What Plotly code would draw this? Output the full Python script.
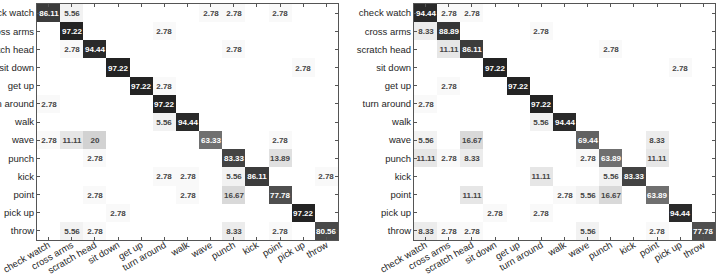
import plotly.graph_objects as go

classes = ["check watch", "cross arms", "scratch head", "sit down", "get up",
           "turn around", "walk", "wave", "punch", "kick", "point", "pick up", "throw"]

# rows = true class, columns = predicted class (percent)
left_matrix = [
    [86.11, 5.56, 0, 0, 0, 0, 0, 2.78, 2.78, 0, 2.78, 0, 0],
    [0, 97.22, 0, 0, 0, 2.78, 0, 0, 0, 0, 0, 0, 0],
    [0, 2.78, 94.44, 0, 0, 0, 0, 0, 2.78, 0, 0, 0, 0],
    [0, 0, 0, 97.22, 0, 0, 0, 0, 0, 0, 0, 2.78, 0],
    [0, 0, 0, 0, 97.22, 2.78, 0, 0, 0, 0, 0, 0, 0],
    [2.78, 0, 0, 0, 0, 97.22, 0, 0, 0, 0, 0, 0, 0],
    [0, 0, 0, 0, 0, 5.56, 94.44, 0, 0, 0, 0, 0, 0],
    [2.78, 11.11, 20, 0, 0, 0, 0, 63.33, 0, 0, 2.78, 0, 0],
    [0, 0, 2.78, 0, 0, 0, 0, 0, 83.33, 0, 13.89, 0, 0],
    [0, 0, 0, 0, 0, 2.78, 2.78, 0, 5.56, 86.11, 0, 0, 2.78],
    [0, 0, 2.78, 0, 0, 0, 2.78, 0, 16.67, 0, 77.78, 0, 0],
    [0, 0, 0, 2.78, 0, 0, 0, 0, 0, 0, 0, 97.22, 0],
    [0, 5.56, 2.78, 0, 0, 0, 0, 0, 8.33, 0, 2.78, 0, 80.56],
]

right_matrix = [
    [94.44, 2.78, 2.78, 0, 0, 0, 0, 0, 0, 0, 0, 0, 0],
    [8.33, 88.89, 0, 0, 0, 2.78, 0, 0, 0, 0, 0, 0, 0],
    [0, 11.11, 86.11, 0, 0, 0, 0, 0, 2.78, 0, 0, 0, 0],
    [0, 0, 0, 97.22, 0, 0, 0, 0, 0, 0, 0, 2.78, 0],
    [0, 2.78, 0, 0, 97.22, 0, 0, 0, 0, 0, 0, 0, 0],
    [2.78, 0, 0, 0, 0, 97.22, 0, 0, 0, 0, 0, 0, 0],
    [0, 0, 0, 0, 0, 5.56, 94.44, 0, 0, 0, 0, 0, 0],
    [5.56, 0, 16.67, 0, 0, 0, 0, 69.44, 0, 0, 8.33, 0, 0],
    [11.11, 2.78, 8.33, 0, 0, 0, 0, 2.78, 63.89, 0, 11.11, 0, 0],
    [0, 0, 0, 0, 0, 11.11, 0, 0, 5.56, 83.33, 0, 0, 0],
    [0, 0, 11.11, 0, 0, 0, 2.78, 5.56, 16.67, 0, 63.89, 0, 0],
    [0, 0, 0, 2.78, 0, 2.78, 0, 0, 0, 0, 0, 94.44, 0],
    [8.33, 2.78, 2.78, 0, 0, 0, 0, 5.56, 0, 0, 2.78, 0, 77.78],
]


def labels(m):
    return [[("" if v == 0 else f"{v:g}") for v in row] for row in m]


W, H = 719, 276
scale = [[0, "#ffffff"], [1, "#1d1d1d"]]

fig = go.Figure()
for i, m in enumerate([left_matrix, right_matrix]):
    suffix = "" if i == 0 else "2"
    fig.add_trace(go.Heatmap(
        z=m, x=classes, y=classes, text=labels(m), texttemplate="%{text}",
        textfont=dict(size=8, family="Liberation Sans, Arial", weight="bold"),
        colorscale=scale, zmin=0, zmax=100, showscale=False,
        xaxis="x" + suffix, yaxis="y" + suffix, hoverinfo="skip",
    ))

ydom = [1 - 240 / H, 1 - 4 / H]
axis_common = dict(
    showline=True, linecolor="#555555", linewidth=1, mirror="ticks",
    ticks="inside", ticklen=3, tickcolor="#555555", showgrid=False,
    zeroline=False, automargin=False,
)
xfont = dict(size=9.5, family="Liberation Sans, Arial", color="#262626")
yfont = dict(size=9.5, family="Liberation Sans, Arial", color="#262626")
fig.update_layout(
    width=W, height=H, margin=dict(l=0, r=0, t=0, b=0),
    paper_bgcolor="white", plot_bgcolor="white",
    xaxis=dict(domain=[37 / W, 338 / W], anchor="y", tickangle=-30,
               ticklabelstandoff=-5, tickfont=xfont, **axis_common),
    yaxis=dict(domain=ydom, anchor="x", autorange="reversed", tickfont=yfont,
               **axis_common),
    xaxis2=dict(domain=[414 / W, 715 / W], anchor="y2", tickangle=-30,
                ticklabelstandoff=-5, tickfont=xfont, **axis_common),
    yaxis2=dict(domain=ydom, anchor="x2", autorange="reversed", tickfont=yfont,
                **axis_common),
)

fig.write_html("out.html")
